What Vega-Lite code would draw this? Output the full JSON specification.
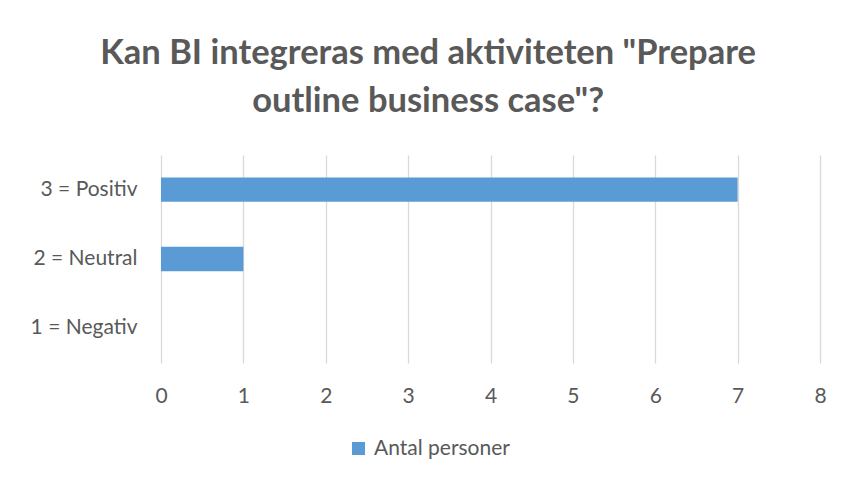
{
  "$schema": "https://vega.github.io/schema/vega-lite/v6.json",
  "width": 659,
  "height": 208,
  "autosize": {"type": "none"},
  "padding": {"left": 161, "top": 155, "right": 22, "bottom": 115},
  "background": "white",
  "title": {
    "text": ["Kan BI integreras med aktiviteten \"Prepare", "outline business case\"?"],
    "font": "Lato",
    "fontSize": 34.5,
    "fontWeight": "bold",
    "color": "#595959",
    "anchor": "middle",
    "frame": "bounds",
    "lineHeight": 48,
    "offset": 36
  },
  "data": {
    "values": [
      {"kategori": "3 = Positiv", "antal": 7, "serie": "Antal personer"},
      {"kategori": "2 = Neutral", "antal": 1, "serie": "Antal personer"},
      {"kategori": "1 = Negativ", "antal": 0, "serie": "Antal personer"}
    ]
  },
  "mark": {"type": "bar"},
  "encoding": {
    "y": {
      "field": "kategori",
      "type": "nominal",
      "sort": ["3 = Positiv", "2 = Neutral", "1 = Negativ"],
      "scale": {"paddingInner": 0.65, "paddingOuter": 0.325},
      "axis": {
        "title": null,
        "ticks": false,
        "domain": false,
        "labelFont": "Lato",
        "labelFontSize": 21,
        "labelColor": "#595959",
        "labelPadding": 24
      }
    },
    "x": {
      "field": "antal",
      "type": "quantitative",
      "scale": {"domain": [0, 8], "nice": false},
      "axis": {
        "title": null,
        "values": [0, 1, 2, 3, 4, 5, 6, 7, 8],
        "ticks": false,
        "domain": false,
        "grid": true,
        "gridColor": "#d9d9d9",
        "gridWidth": 1.3,
        "labelFlush": false,
        "labelFont": "Lato",
        "labelFontSize": 21,
        "labelColor": "#595959",
        "labelPadding": 22
      }
    },
    "color": {
      "field": "serie",
      "type": "nominal",
      "scale": {"range": ["#5b9bd5"]},
      "legend": {
        "title": null,
        "orient": "none",
        "legendX": 187,
        "legendY": 283,
        "symbolType": "square",
        "symbolSize": 170,
        "symbolStrokeWidth": 0,
        "labelFont": "Lato",
        "labelFontSize": 21,
        "labelColor": "#595959",
        "labelOffset": 5
      }
    }
  },
  "config": {"view": {"stroke": null}}
}
